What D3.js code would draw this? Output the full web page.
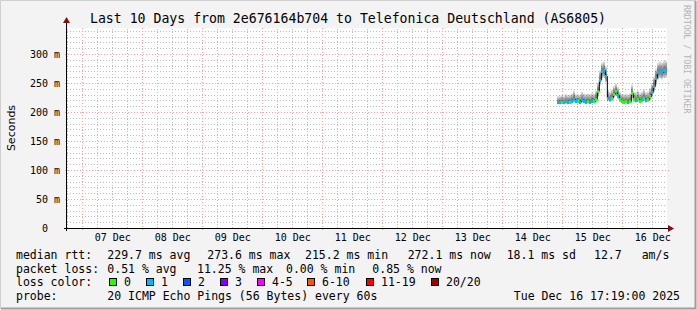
<!DOCTYPE html>
<meta charset="utf-8">
<script src="https://cdn.jsdelivr.net/npm/d3@7"></script>
<style>
    body { margin: 0; background: #f3f3f3; }
    svg { display: block; font-family: "DejaVu Sans Mono", monospace; }
</style>
<div id="chart"></div>
<script>
    // ---- data ----
    var title = "Last 10 Days from 2e676164b704 to Telefonica Deutschland (AS6805)";
    var yTicks = [0, 50, 100, 150, 200, 250, 300];
    var dayTicks = ["2025-12-07T12:00", "2025-12-08T12:00", "2025-12-09T12:00", "2025-12-10T12:00",
        "2025-12-11T12:00", "2025-12-12T12:00", "2025-12-13T12:00", "2025-12-14T12:00",
        "2025-12-15T12:00", "2025-12-16T12:00"];

    // sample times (every 48 min) of the median rtt series
    var times = ["2025-12-14T22:24", "2025-12-14T23:12", "2025-12-15T00:00", "2025-12-15T00:48",
        "2025-12-15T01:36", "2025-12-15T02:24", "2025-12-15T03:12", "2025-12-15T04:00",
        "2025-12-15T04:48", "2025-12-15T05:36", "2025-12-15T06:24", "2025-12-15T07:12",
        "2025-12-15T08:00", "2025-12-15T08:48", "2025-12-15T09:36", "2025-12-15T10:24",
        "2025-12-15T11:12", "2025-12-15T12:00", "2025-12-15T12:48", "2025-12-15T13:36",
        "2025-12-15T14:24", "2025-12-15T15:12", "2025-12-15T16:00", "2025-12-15T16:48",
        "2025-12-15T17:36", "2025-12-15T18:24", "2025-12-15T19:12", "2025-12-15T20:00",
        "2025-12-15T20:48", "2025-12-15T21:36", "2025-12-15T22:24", "2025-12-15T23:12",
        "2025-12-16T00:00", "2025-12-16T00:48", "2025-12-16T01:36", "2025-12-16T02:24",
        "2025-12-16T03:12", "2025-12-16T04:00", "2025-12-16T04:48", "2025-12-16T05:36",
        "2025-12-16T06:24", "2025-12-16T07:12", "2025-12-16T08:00", "2025-12-16T08:48",
        "2025-12-16T09:36", "2025-12-16T10:24", "2025-12-16T11:12", "2025-12-16T12:00",
        "2025-12-16T12:48", "2025-12-16T13:36", "2025-12-16T14:24", "2025-12-16T15:12",
        "2025-12-16T16:00", "2025-12-16T16:48", "2025-12-16T17:36"];
    // median rtt in ms
    var median = [216, 216, 217, 216, 218, 217, 217, 219, 222, 218, 218, 217, 221, 218, 217, 218,
        217, 219, 218, 222, 236, 255, 270, 272, 262, 224, 221, 224, 231, 235, 229, 221,
        218, 217, 218, 217, 218, 232, 221, 220, 222, 219, 221, 224, 220, 221, 226, 234,
        244, 258, 268, 270, 268, 271, 272];
    // smoke range (lowest / highest ping) in ms
    var smokeLo = [213, 213, 214, 213, 214, 214, 214, 215, 217, 215, 215, 214, 216, 215, 214, 215,
        214, 215, 215, 217, 226, 245, 256, 258, 250, 219, 217, 219, 224, 227, 222, 217,
        215, 214, 215, 214, 215, 224, 217, 216, 217, 216, 217, 219, 216, 217, 220, 226,
        234, 246, 255, 257, 256, 258, 258];
    var smokeHi = [228, 229, 230, 229, 232, 230, 231, 233, 238, 232, 232, 231, 236, 233, 232, 233,
        232, 234, 233, 238, 252, 272, 286, 288, 280, 240, 236, 240, 246, 250, 244, 236,
        232, 231, 232, 231, 233, 248, 236, 235, 238, 234, 236, 240, 235, 236, 242, 250,
        262, 276, 286, 288, 287, 289, 290];
    // loss bucket per sample (index into lossColors)
    var loss = [1, 1, 0, 1, 1, 1, 0, 1, 1, 1, 0, 1, 1, 1, 1, 0, 1, 1, 0, 0,
        0, 1, 1, 1, 1, 1, 1, 0, 0, 0, 1, 0,
        0, 0, 0, 1, 0, 0, 0, 1, 0, 0, 1, 0, 1, 0,
        0, 1, 1, 1, 1, 1, 1, 1, 1];

    var lossLabels = ["0", "1", "2", "3", "4-5", "6-10", "11-19", "20/20"];
    var lossColors = ["#26ff00", "#00b8ff", "#0059ff", "#7e00ff", "#ff00ff", "#ff5500", "#ff0000", "#a10000"];

    var rttStats = ["229.7 ms avg", "273.6 ms max", "215.2 ms min", "272.1 ms now", "18.1 ms sd", "12.7", "am/s"];
    var lossStats = ["0.51 % avg", "11.25 % max", "0.00 % min", "0.85 % now"];
    var probeText = "20 ICMP Echo Pings (56 Bytes) every 60s";
    var stampText = "Tue Dec 16 17:19:00 2025";

    // ---- layout ----
    var W = 697, H = 310;
    var plot = { left: 67, right: 667, top: 28, bottom: 228 };

    var parse = d3.utcParse("%Y-%m-%dT%H:%M");
    var data = times.map(function(t, i) {
        return { t: parse(t), m: median[i], lo: smokeLo[i], hi: smokeHi[i], loss: loss[i] };
    });

    var svg = d3.select("#chart").append("svg")
        .attr("width", W).attr("height", H);

    // background + shaded frame
    svg.append("rect").attr("width", W).attr("height", H).attr("fill", "#f3f3f3");
    svg.append("path").attr("d", "M0.5," + (H - 1) + "V0.5H" + (W - 1))
        .attr("stroke", "#cfcfcf").attr("fill", "none");
    svg.append("path").attr("d", "M1," + (H - 1.5) + "H" + (W - 1.5) + "V1")
        .attr("stroke", "#9e9e9e").attr("stroke-width", 2).attr("fill", "none");

    // canvas
    svg.append("rect")
        .attr("x", plot.left).attr("y", plot.top)
        .attr("width", plot.right - plot.left).attr("height", plot.bottom - plot.top)
        .attr("fill", "#ffffff");

    var x = d3.scaleUtc()
        .domain([parse("2025-12-06T17:52"), parse("2025-12-16T17:52")])
        .range([plot.left, plot.right]);
    var y = d3.scaleLinear()
        .domain([0, 345])
        .range([plot.bottom, plot.top]);

    // grid (dotted, rrdtool style)
    var grid = svg.append("g").attr("shape-rendering", "crispEdges");
    var minorY = d3.range(10, 345, 10).filter(function(v) { return v % 50 !== 0; });
    var majorY = d3.range(50, 345, 50);
    var minorX = x.ticks(d3.utcHour.every(6)).filter(function(d) { return d.getUTCHours() !== 0; });
    var majorX = x.ticks(d3.utcDay.every(1));
    var minorCol = "#bdbdbd", majorCol = "#f5a3a3";

    function hLines(vals, col, ext) {
        grid.append("g").selectAll("line").data(vals).enter().append("line")
            .attr("x1", plot.left - ext).attr("x2", plot.right + ext)
            .attr("y1", function(d) { return Math.round(y(d)) + 0.5; })
            .attr("y2", function(d) { return Math.round(y(d)) + 0.5; })
            .attr("stroke", col).attr("stroke-dasharray", "1,2");
    }
    function vLines(vals, col, ext) {
        grid.append("g").selectAll("line").data(vals).enter().append("line")
            .attr("y1", plot.bottom + ext).attr("y2", plot.top - ext)
            .attr("x1", function(d) { return Math.round(x(d)) + 0.5; })
            .attr("x2", function(d) { return Math.round(x(d)) + 0.5; })
            .attr("stroke", col).attr("stroke-dasharray", "1,2");
    }
    hLines(minorY, minorCol, 0);
    vLines(minorX, minorCol, 0);
    hLines(majorY, majorCol, 2);
    vLines(majorX, majorCol, 2);

    // smoke: stacked grey bands around the median
    var layers = 12;
    var smoke = svg.append("g").attr("shape-rendering", "crispEdges");
    for (var j = layers; j >= 1; j--) {
        var f = j / layers;
        smoke.append("g").selectAll("rect").data(data).enter().append("rect")
            .attr("x", function(d) { return x(d.t) - 1; })
            .attr("width", 2)
            .attr("y", function(d) { return y(d.m + (d.hi - d.m) * f); })
            .attr("height", function(d) { return y(d.m + (d.lo - d.m) * f) - y(d.m + (d.hi - d.m) * f); })
            .attr("fill", "#000").attr("fill-opacity", 0.065);
    }

    // median line
    svg.append("path").datum(data)
        .attr("fill", "none").attr("stroke", "#000").attr("stroke-width", 1)
        .attr("d", d3.line()
            .x(function(d) { return x(d.t); })
            .y(function(d) { return y(d.m); })
            .curve(d3.curveStep));

    // loss coloured median marks
    svg.append("g").attr("shape-rendering", "crispEdges")
        .selectAll("rect").data(data).enter().append("rect")
        .attr("x", function(d) { return x(d.t) - 1; })
        .attr("y", function(d) { return y(d.m) - 1.5; })
        .attr("width", 2).attr("height", 3)
        .attr("fill", function(d) { return lossColors[d.loss]; });

    // axes
    var yAxis = svg.append("g")
        .attr("transform", "translate(" + plot.left + ",0)")
        .call(d3.axisLeft(y).tickValues(yTicks).tickSize(0).tickPadding(7)
            .tickFormat(function(v) { return v === 0 ? "0" : v + " m"; }));
    yAxis.select(".domain").remove();
    yAxis.selectAll("text").attr("font-family", "DejaVu Sans Mono").attr("font-size", 10).attr("fill", "#000")
        .attr("dx", function(d) { return d === 0 ? -12 : 0; });

    var xAxis = svg.append("g")
        .attr("transform", "translate(0," + plot.bottom + ")")
        .call(d3.axisBottom(x).tickValues(dayTicks.map(parse)).tickSize(0).tickPadding(6)
            .tickFormat(d3.utcFormat("%d %b")));
    xAxis.select(".domain").remove();
    xAxis.selectAll("text").attr("font-family", "DejaVu Sans Mono").attr("font-size", 10).attr("fill", "#000");

    // axis lines with arrows
    svg.append("line").attr("x1", plot.left - 3).attr("x2", plot.right + 2)
        .attr("y1", plot.bottom + 0.5).attr("y2", plot.bottom + 0.5)
        .attr("stroke", "#000").attr("shape-rendering", "crispEdges");
    svg.append("line").attr("x1", plot.left - 0.5).attr("x2", plot.left - 0.5)
        .attr("y1", plot.bottom + 3).attr("y2", plot.top - 6)
        .attr("stroke", "#000").attr("shape-rendering", "crispEdges");
    svg.append("path")
        .attr("d", "M" + (plot.right + 1) + "," + (plot.bottom - 3) + "L" + (plot.right + 7) + "," + (plot.bottom + 0.5) +
            "L" + (plot.right + 1) + "," + (plot.bottom + 4) + "Z")
        .attr("fill", "#7f1010");
    svg.append("path")
        .attr("d", "M" + (plot.left - 4) + "," + (plot.top - 5) + "L" + (plot.left - 0.5) + "," + (plot.top - 11) +
            "L" + (plot.left + 3) + "," + (plot.top - 5) + "Z")
        .attr("fill", "#7f1010");

    // title, y label, watermark
    svg.append("text").attr("x", 348).attr("y", 23).attr("text-anchor", "middle")
        .attr("font-size", 13.2).text(title);
    svg.append("text").attr("transform", "translate(15,128) rotate(-90)")
        .attr("text-anchor", "middle").attr("font-family", "DejaVu Sans").attr("font-size", 11)
        .text("Seconds");
    svg.append("text").attr("transform", "translate(684,5) rotate(90)")
        .attr("font-size", 8.2).attr("fill", "#b4b4b4")
        .text("RRDTOOL / TOBI OETIKER");

    // legend
    var leg = svg.append("g").attr("font-size", 11.5).attr("fill", "#000");
    var rows = [258.5, 272.5, 286, 299.5];
    leg.append("text").attr("x", 16).attr("y", rows[0]).text("median rtt:");
    [107.3, 207.3, 305, 407.7, 506.7, 594, 641.7].forEach(function(px, i) {
        leg.append("text").attr("x", px).attr("y", rows[0]).text(rttStats[i]);
    });
    leg.append("text").attr("x", 16).attr("y", rows[1]).text("packet loss:");
    [107.3, 197, 286, 372.3].forEach(function(px, i) {
        leg.append("text").attr("x", px).attr("y", rows[1]).text(lossStats[i]);
    });
    leg.append("text").attr("x", 16).attr("y", rows[2]).text("loss color:");
    [108.5, 145.7, 182.7, 219.7, 256.7, 306.7, 365.7, 430.7].forEach(function(px, i) {
        var bx = Math.round(px) + 0.5;
        leg.append("rect").attr("x", bx).attr("y", 278.5).attr("width", 7).attr("height", 7)
            .attr("fill", lossColors[i]).attr("stroke", "#000");
        leg.append("text").attr("x", bx + 14.5).attr("y", rows[2]).text(lossLabels[i]);
    });
    leg.append("text").attr("x", 16).attr("y", rows[3]).text("probe:");
    leg.append("text").attr("x", 107.3).attr("y", rows[3]).text(probeText);
    leg.append("text").attr("x", 680).attr("y", rows[3]).attr("text-anchor", "end").text(stampText);
</script>
